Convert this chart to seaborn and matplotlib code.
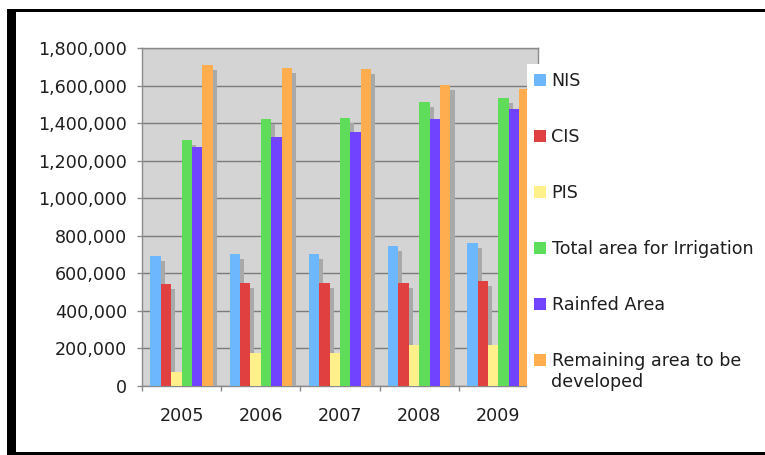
import matplotlib
matplotlib.use("Agg")
import numpy as np
import pandas as pd
import matplotlib.pyplot as plt
import seaborn as sns
from matplotlib.patches import Rectangle, Patch
from matplotlib import patheffects as pe
from matplotlib.ticker import FuncFormatter, FixedLocator, MultipleLocator

# Irrigation development (hectares) by year
years = ["2005", "2006", "2007", "2008", "2009"]
nis = [692000, 701000, 705000, 745000, 761000]
cis = [541000, 547000, 550000, 550000, 557000]
pis = [73000, 174000, 174000, 218000, 218000]
total_irrigation = [1310000, 1422000, 1429000, 1514000, 1535000]
rainfed = [1274000, 1328000, 1351000, 1422000, 1473000]
remaining = [1709000, 1692000, 1686000, 1603000, 1582000]

series_names = ["NIS", "CIS", "PIS", "Total area for Irrigation",
                "Rainfed Area", "Remaining area to be developed"]
series_values = [nis, cis, pis, total_irrigation, rainfed, remaining]
colors = ["#6db7ff", "#e0403f", "#fff08c", "#5fdc5a", "#7243ff", "#ffad4f"]

df = pd.DataFrame(
    [(y, name, v) for name, vals in zip(series_names, series_values)
     for y, v in zip(years, vals)],
    columns=["year", "series", "value"],
)

sns.set_theme(style="white")
plt.rcParams["font.family"] = ["DejaVu Sans"]
text_color = "#1e1e1e"
fs = 12.6

W, H = 765, 455
fig = plt.figure(figsize=(W / 100, H / 100), dpi=100)
fig.patch.set_facecolor("white")
ax = fig.add_axes([142 / W, 1 - 386 / H, (538 - 142) / W, (386 - 48) / H])
ax.set_facecolor("#d4d4d4")

sns.barplot(data=df, x="year", y="value", hue="series", hue_order=series_names,
            palette=colors, saturation=1, width=0.79, gap=0, dodge=True,
            errorbar=None, legend=False, linewidth=0, ax=ax, zorder=3)

# drop shadow behind every bar
for bar in ax.patches:
    bar.set_path_effects([
        pe.SimplePatchShadow(offset=(2.9, -3.6), shadow_rgbFace="#a9a9a9", alpha=1.0),
        pe.Normal(),
    ])

ax.set_ylim(0, 1800000)
ax.set_xlim(-0.5, 4.5)
ax.yaxis.set_major_locator(MultipleLocator(200000))
ax.yaxis.set_major_formatter(FuncFormatter(lambda v, p: f"{int(v):,}"))
ax.set_axisbelow(True)
ax.grid(axis="y", color="#7c7c7c", linewidth=1.0)
ax.grid(axis="x", visible=False)
ax.set_xlabel("")
ax.set_ylabel("")

for s in ax.spines.values():
    s.set_color("#8a8a8a")
    s.set_linewidth(1.0)

ax.tick_params(axis="y", which="major", length=3.6, width=1, color="#8a8a8a",
               direction="out", pad=7, labelsize=fs, labelcolor=text_color, left=True)
ax.xaxis.set_minor_locator(FixedLocator([-0.5, 0.5, 1.5, 2.5, 3.5, 4.5]))
ax.tick_params(axis="x", which="minor", length=3.6, width=1, color="#8a8a8a",
               direction="out", bottom=True)
ax.tick_params(axis="x", which="major", length=0, pad=15, labelsize=fs,
               labelcolor=text_color)

# white legend panel laid over the right edge of the plot
fig.add_artist(Rectangle((527 / W, 1 - 400 / H), (W - 527) / W, (400 - 64) / H,
                         transform=fig.transFigure, facecolor="white",
                         edgecolor="none", zorder=4))

handles = [Patch(facecolor=c, edgecolor="none") for c in colors]
labels = series_names[:-1] + ["Remaining area to be"]
leg = fig.legend(handles, labels, loc="upper left",
                 bbox_to_anchor=(527 / W, 1 - 65.5 / H), frameon=False,
                 fontsize=fs, handlelength=0.7, handleheight=0.7,
                 handletextpad=0.3, labelspacing=2.17, borderpad=0.4,
                 borderaxespad=0)
leg.set_zorder(6)
for t in leg.get_texts():
    t.set_color(text_color)
fig.text(551.5 / W, 1 - 382 / H, "developed", fontsize=fs, color=text_color,
         ha="left", va="center", zorder=7)

# black border of the figure
for rect in [((7, 0), 9, H - 9), ((7, H - 12), W, 3), ((7, 0), W, 3)]:
    (x0, y0), w, h = rect
    fig.add_artist(Rectangle((x0 / W, y0 / H), w / W, h / H,
                             transform=fig.transFigure, facecolor="black",
                             edgecolor="none", zorder=10))

fig.savefig("out.png", dpi=100)
